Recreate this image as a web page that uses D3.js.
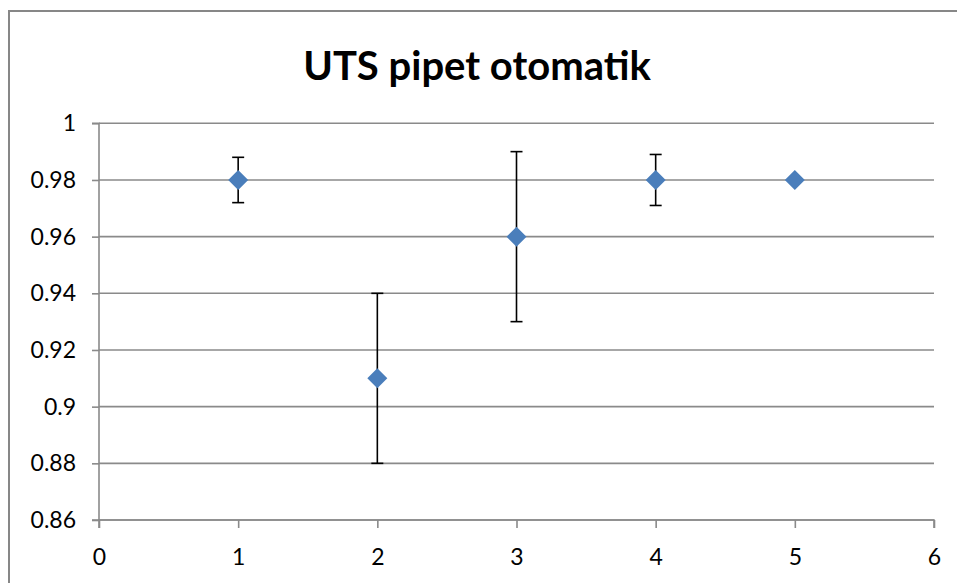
<!DOCTYPE html>
<html>
<head>
<meta charset="utf-8">
<script src="https://cdn.jsdelivr.net/npm/d3@7"></script>
<style>
  html, body { margin: 0; padding: 0; background: #fff; }
  svg { display: block; }
</style>
</head>
<body>
<script>
// ---- data ----
const title = "UTS pipet otomatik";
const xValues = [1, 2, 3, 4, 5];
const yValues = [0.98, 0.91, 0.96, 0.98, 0.98];
const errPlus = [0.008, 0.03, 0.03, 0.009, 0];
const errMinus = [0.008, 0.03, 0.03, 0.009, 0];
const xTicks = [0, 1, 2, 3, 4, 5, 6];
const yTicks = [0.86, 0.88, 0.9, 0.92, 0.94, 0.96, 0.98, 1];

// ---- layout ----
const W = 957, H = 583;
const plot = { left: 99, right: 934, top: 123.3, bottom: 520 };
const gridColor = "#8a8a8a";
const font = "Lato, 'Open Sans', sans-serif";

const svg = d3.select("body").append("svg").attr("width", W).attr("height", H);

// chart border (top and left visible)
svg.append("path")
  .attr("d", `M9,${H} L9,11 L${W},11`)
  .attr("fill", "none").attr("stroke", "#878787").attr("stroke-width", 2);

const x = d3.scaleLinear().domain([0, 6]).range([plot.left, plot.right]);
const y = d3.scaleLinear().domain([0.86, 1]).range([plot.bottom, plot.top]);

// gridlines
svg.append("g").selectAll("line").data(yTicks).join("line")
  .attr("x1", plot.left).attr("x2", plot.right)
  .attr("y1", d => y(d)).attr("y2", d => y(d))
  .attr("stroke", gridColor).attr("stroke-width", 1.6);

// y axis
const yAxis = svg.append("g").attr("transform", `translate(${plot.left},0)`)
  .call(d3.axisLeft(y).tickValues(yTicks).tickSize(7).tickPadding(16)
    .tickFormat(d => d3.format("")(+d.toFixed(2))));
// x axis
const xAxis = svg.append("g").attr("transform", `translate(0,${plot.bottom})`)
  .call(d3.axisBottom(x).tickValues(xTicks).tickSize(8).tickPadding(21).tickFormat(d3.format("d")));

[yAxis, xAxis].forEach(g => {
  g.selectAll("path.domain").attr("stroke", gridColor).attr("stroke-width", 1.6);
  g.selectAll(".tick line").attr("stroke", gridColor).attr("stroke-width", 1.6);
  g.selectAll("text").attr("fill", "#000").style("font-family", font).style("font-size", "23px");
});
xAxis.select("path.domain").attr("d", `M${plot.left},8V0H${plot.right}V8`);
yAxis.select("path.domain").attr("d", `M-7,${plot.top}H0V${plot.bottom}H-7`);

// error bars
const pts = xValues.map((xv, i) => ({ x: xv, y: yValues[i], ep: errPlus[i], em: errMinus[i] }));
const eb = svg.append("g").selectAll("g").data(pts.filter(d => d.ep > 0 || d.em > 0)).join("g");
eb.append("line")
  .attr("x1", d => x(d.x)).attr("x2", d => x(d.x))
  .attr("y1", d => y(d.y + d.ep)).attr("y2", d => y(d.y - d.em))
  .attr("stroke", "#000").attr("stroke-width", 1.6);
eb.append("line")
  .attr("x1", d => x(d.x) - 6).attr("x2", d => x(d.x) + 6)
  .attr("y1", d => y(d.y + d.ep)).attr("y2", d => y(d.y + d.ep))
  .attr("stroke", "#000").attr("stroke-width", 1.6);
eb.append("line")
  .attr("x1", d => x(d.x) - 6).attr("x2", d => x(d.x) + 6)
  .attr("y1", d => y(d.y - d.em)).attr("y2", d => y(d.y - d.em))
  .attr("stroke", "#000").attr("stroke-width", 1.6);

// markers (diamonds)
const r = 10;
svg.append("g").selectAll("path").data(pts).join("path")
  .attr("d", d => { const cx = x(d.x), cy = y(d.y);
    return `M${cx},${cy - r}L${cx + r},${cy}L${cx},${cy + r}L${cx - r},${cy}Z`; })
  .attr("fill", "#4a7ebb");

// title
svg.append("text")
  .attr("x", 477).attr("y", 80)
  .attr("text-anchor", "middle")
  .style("font-family", font).style("font-weight", "bold").style("font-size", "40px")
  .attr("fill", "#000")
  .text(title);
</script>
</body>
</html>
